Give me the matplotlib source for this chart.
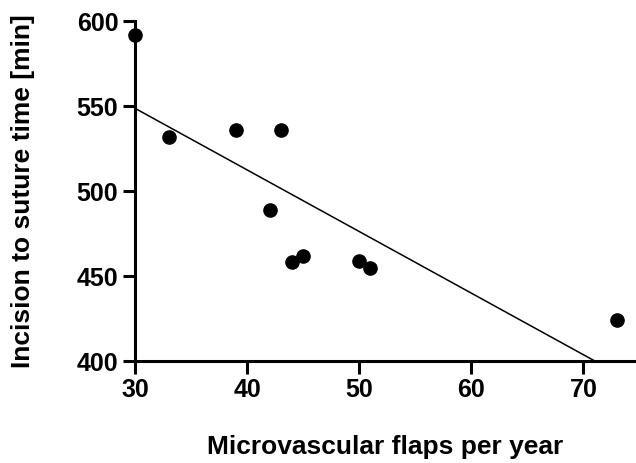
import numpy as np
import matplotlib
matplotlib.use("Agg")
import matplotlib.pyplot as plt

plt.rcParams['font.family'] = ['Liberation Sans', 'DejaVu Sans']

# microvascular flaps per year vs incision-to-suture time
flaps = [30, 33, 39, 43, 42, 44, 45, 50, 51, 73]
minutes = [592, 532, 536, 536, 489, 458, 462, 459, 455, 424]

x_ticks = [30, 40, 50, 60, 70]
y_ticks = [400, 450, 500, 550, 600]

fig = plt.figure(figsize=(6.36, 4.63), dpi=100)
ax = fig.add_axes([0.2123, 0.2203, 0.7877, 0.7343])

# linear regression
slope, intercept = np.polyfit(flaps, minutes, 1)
xs = np.linspace(30, 75, 200)
ax.plot(xs, slope * xs + intercept, color='black', lw=1.1)

ax.plot(flaps, minutes, 'o', color='black', markersize=9.5, clip_on=False, zorder=3)

ax.set_xlim(30, 74.7)
ax.set_ylim(400, 600)
ax.set_xticks(x_ticks)
ax.set_yticks(y_ticks)

for s in ['top', 'right']:
    ax.spines[s].set_visible(False)
for s in ['left', 'bottom']:
    ax.spines[s].set_linewidth(2.2)
ax.tick_params(width=2.2, length=9, labelsize=18, pad=3)
for lbl in ax.get_xticklabels() + ax.get_yticklabels():
    lbl.set_fontweight('bold')

ax.set_xlabel('Microvascular flaps per year', fontsize=19, fontweight='bold', labelpad=24)
ax.set_ylabel('Incision to suture time [min]', fontsize=19, fontweight='bold', labelpad=30)

fig.savefig('out.png', dpi=100)
